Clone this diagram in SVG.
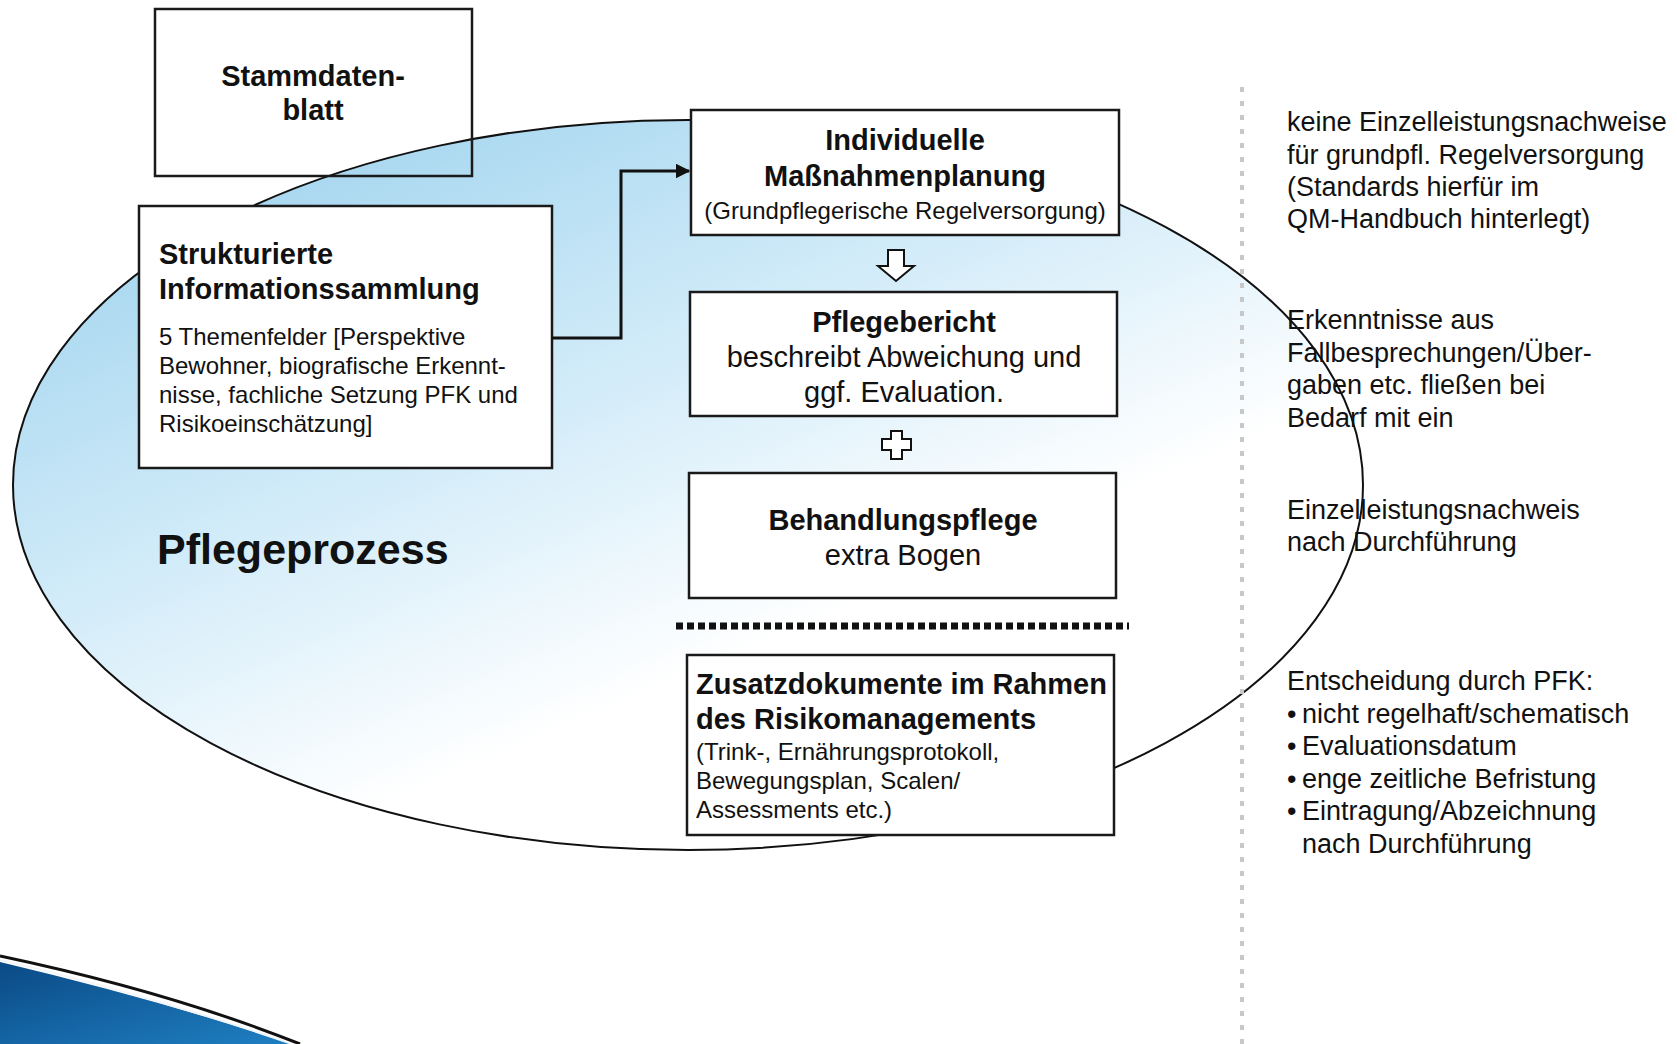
<svg xmlns="http://www.w3.org/2000/svg" width="1677" height="1044" viewBox="0 0 1677 1044">
<style>
text{font-family:"Liberation Sans",Arial,sans-serif;fill:#111}
.b{font-weight:bold}
.box{fill:#fff;stroke:#1a1a1a;stroke-width:2.5}
.t29{font-size:29px}
.t24{font-size:24px}
.t27{font-size:27px}
.c{text-anchor:middle}
</style>
<defs>
<linearGradient id="eg" x1="0.1" y1="0.05" x2="0.72" y2="0.85">
<stop offset="0" stop-color="#9fd3ee"/>
<stop offset="0.45" stop-color="#d3ecf9"/>
<stop offset="0.8" stop-color="#ffffff"/>
</linearGradient>
<linearGradient id="sw" x1="0" y1="0" x2="1" y2="1">
<stop offset="0" stop-color="#0a4a85"/>
<stop offset="1" stop-color="#1f7fc2"/>
</linearGradient>
<marker id="ah" viewBox="0 0 10 10" refX="9" refY="5" markerWidth="5" markerHeight="5" orient="auto" markerUnits="strokeWidth">
<path d="M0,0 L10,5 L0,10 z" fill="#111"/>
</marker>
</defs>
<rect width="1677" height="1044" fill="#fff"/>

<g id="ellipse">
<ellipse cx="688" cy="485" rx="675" ry="365" fill="url(#eg)" stroke="#111" stroke-width="2"/>
</g>

<g id="swoosh">
<path d="M0,962 Q160,1000 292,1044 L0,1044 Z" fill="url(#sw)"/>
<path d="M0,960 Q160,998 292,1044" fill="none" stroke="#f2f6fa" stroke-width="2"/>
<path d="M0,956 Q170,992 300,1044" fill="none" stroke="#111" stroke-width="3"/>
</g>

<g id="separator-v">
<line x1="1242" y1="87" x2="1242" y2="1044" stroke="#c8c8c8" stroke-width="4" stroke-dasharray="5 9"/>
</g>

<g id="stammdatenblatt">
<rect x="155" y="9" width="317" height="167" fill="none" stroke="#1a1a1a" stroke-width="2.5"/>
<text class="b t29 c" x="313" y="86">Stammdaten-</text>
<text class="b t29 c" x="313" y="120">blatt</text>
</g>

<g id="strukturierte">
<rect class="box" x="139" y="206" width="413" height="262"/>
<text class="b t29" x="159" y="264">Strukturierte</text>
<text class="b t29" x="159" y="299">Informationssammlung</text>
<text class="t24" x="159" y="345">5 Themenfelder [Perspektive</text>
<text class="t24" x="159" y="374">Bewohner, biografische Erkennt-</text>
<text class="t24" x="159" y="403">nisse, fachliche Setzung PFK und</text>
<text class="t24" x="159" y="432">Risikoeinschätzung]</text>
</g>

<g id="connectors">
<path d="M552,338 H621 V171 H689" fill="none" stroke="#111" stroke-width="3" marker-end="url(#ah)"/>
<path d="M888,250 H904 V266 H914 L896,281 L878,266 H888 Z" fill="#fff" stroke="#111" stroke-width="2"/>
</g>

<g id="massnahmen">
<rect class="box" x="691" y="110" width="428" height="125"/>
<text class="b t29 c" x="905" y="150">Individuelle</text>
<text class="b t29 c" x="905" y="186">Maßnahmenplanung</text>
<text class="t24 c" x="905" y="219">(Grundpflegerische Regelversorgung)</text>
</g>

<g id="pflegebericht">
<rect class="box" x="690" y="292" width="427" height="124"/>
<text class="b t29 c" x="904" y="332">Pflegebericht</text>
<text class="t29 c" x="904" y="367">beschreibt Abweichung und</text>
<text class="t29 c" x="904" y="402">ggf. Evaluation.</text>
</g>

<g id="plus">
<path d="M891,431 H902 V439 H911 V450 H902 V459 H891 V450 H882 V439 H891 Z" fill="#fff" stroke="#111" stroke-width="2"/>
</g>

<g id="behandlungspflege">
<rect class="box" x="689" y="473" width="427" height="125"/>
<text class="b t29 c" x="903" y="530">Behandlungspflege</text>
<text class="t29 c" x="903" y="565">extra Bogen</text>
</g>

<g id="separator-h">
<line x1="676" y1="626" x2="1129" y2="626" stroke="#111" stroke-width="7" stroke-dasharray="7 4"/>
</g>

<g id="zusatzdokumente">
<rect class="box" x="687" y="655" width="427" height="180"/>
<text class="b t29" x="696" y="694">Zusatzdokumente im Rahmen</text>
<text class="b t29" x="696" y="729">des Risikomanagements</text>
<text class="t24" x="696" y="760">(Trink-, Ernährungsprotokoll,</text>
<text class="t24" x="696" y="789">Bewegungsplan, Scalen/</text>
<text class="t24" x="696" y="818">Assessments etc.)</text>
</g>

<g id="pflegeprozess">
<text class="b" x="157" y="564" style="font-size:43px">Pflegeprozess</text>
</g>

<g id="notes">
<text class="t27" x="1287" y="131">keine Einzelleistungsnachweise</text>
<text class="t27" x="1287" y="164">für grundpfl. Regelversorgung</text>
<text class="t27" x="1287" y="196">(Standards hierfür im</text>
<text class="t27" x="1287" y="228">QM-Handbuch hinterlegt)</text>

<text class="t27" x="1287" y="329">Erkenntnisse aus</text>
<text class="t27" x="1287" y="362">Fallbesprechungen/Über-</text>
<text class="t27" x="1287" y="394">gaben etc. fließen bei</text>
<text class="t27" x="1287" y="427">Bedarf mit ein</text>

<text class="t27" x="1287" y="519">Einzelleistungsnachweis</text>
<text class="t27" x="1287" y="551">nach Durchführung</text>

<text class="t27" x="1287" y="690">Entscheidung durch PFK:</text>
<text class="t27" x="1287" y="723">•</text><text class="t27" x="1302" y="723">nicht regelhaft/schematisch</text>
<text class="t27" x="1287" y="755">•</text><text class="t27" x="1302" y="755">Evaluationsdatum</text>
<text class="t27" x="1287" y="788">•</text><text class="t27" x="1302" y="788">enge zeitliche Befristung</text>
<text class="t27" x="1287" y="820">•</text><text class="t27" x="1302" y="820">Eintragung/Abzeichnung</text>
<text class="t27" x="1302" y="853">nach Durchführung</text>
</g>
</svg>
